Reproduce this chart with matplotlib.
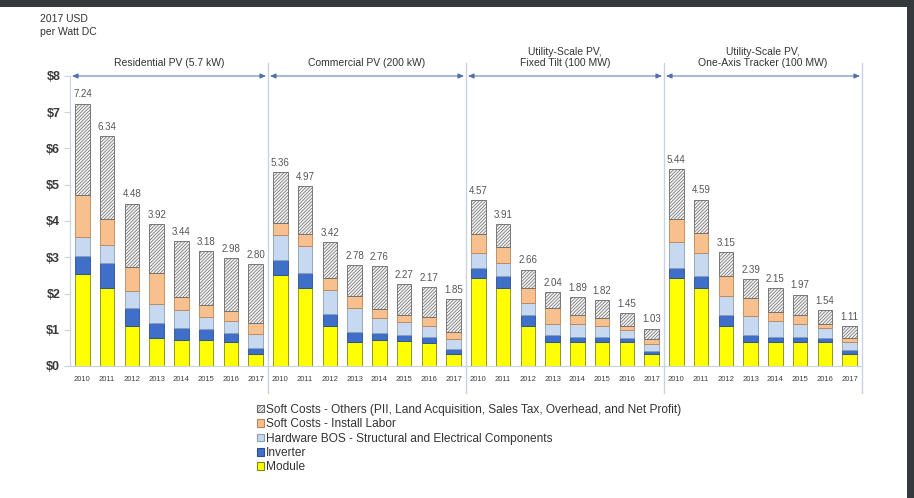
import matplotlib.pyplot as plt
from matplotlib.patches import Rectangle

plt.rcParams['font.family'] = ['Liberation Sans', 'DejaVu Sans']
plt.rcParams['hatch.linewidth'] = 0.5

years = ['2010', '2011', '2012', '2013', '2014', '2015', '2016', '2017']
segments = ['Residential PV (5.7 kW)', 'Commercial PV (200 kW)',
            'Utility-Scale PV,\nFixed Tilt (100 MW)',
            'Utility-Scale PV,\nOne-Axis Tracker (100 MW)']

# component costs per segment, 2010..2017 ($/W)
module = [
    [2.55, 2.15, 1.11, 0.76, 0.72, 0.72, 0.65, 0.33],
    [2.52, 2.15, 1.11, 0.65, 0.72, 0.68, 0.63, 0.33],
    [2.43, 2.15, 1.11, 0.66, 0.66, 0.65, 0.65, 0.32],
    [2.43, 2.15, 1.11, 0.66, 0.66, 0.65, 0.65, 0.33],
]
inverter = [
    [0.49, 0.70, 0.50, 0.43, 0.34, 0.30, 0.26, 0.18],
    [0.40, 0.42, 0.32, 0.30, 0.19, 0.18, 0.17, 0.13],
    [0.27, 0.33, 0.31, 0.20, 0.15, 0.15, 0.11, 0.10],
    [0.28, 0.33, 0.31, 0.20, 0.15, 0.15, 0.13, 0.10],
]
hardware_bos = [
    [0.52, 0.49, 0.45, 0.53, 0.48, 0.32, 0.32, 0.38],
    [0.69, 0.74, 0.68, 0.65, 0.41, 0.34, 0.29, 0.28],
    [0.41, 0.37, 0.32, 0.31, 0.36, 0.29, 0.22, 0.19],
    [0.70, 0.65, 0.52, 0.51, 0.42, 0.37, 0.26, 0.22],
]
install_labor = [
    [1.16, 0.72, 0.68, 0.84, 0.35, 0.35, 0.29, 0.30],
    [0.33, 0.33, 0.33, 0.33, 0.25, 0.22, 0.26, 0.21],
    [0.53, 0.42, 0.42, 0.43, 0.25, 0.23, 0.13, 0.13],
    [0.65, 0.54, 0.54, 0.51, 0.26, 0.25, 0.13, 0.12],
]
soft_others = [
    [2.52, 2.28, 1.74, 1.36, 1.55, 1.49, 1.46, 1.61],
    [1.42, 1.33, 0.98, 0.85, 1.19, 0.85, 0.82, 0.90],
    [0.93, 0.64, 0.50, 0.44, 0.47, 0.50, 0.34, 0.29],
    [1.38, 0.92, 0.67, 0.51, 0.66, 0.55, 0.37, 0.34],
]
totals = [
    [7.24, 6.34, 4.48, 3.92, 3.44, 3.18, 2.98, 2.80],
    [5.36, 4.97, 3.42, 2.78, 2.76, 2.27, 2.17, 1.85],
    [4.57, 3.91, 2.66, 2.04, 1.89, 1.82, 1.45, 1.03],
    [5.44, 4.59, 3.15, 2.39, 2.15, 1.97, 1.54, 1.11],
]
legend_labels = [
    'Soft Costs - Others (PII, Land Acquisition, Sales Tax, Overhead, and Net Profit)',
    'Soft Costs - Install Labor',
    'Hardware BOS - Structural and Electrical Components',
    'Inverter',
    'Module',
]

fig = plt.figure(figsize=(9.14, 4.98), dpi=100, facecolor='#36393c')
fig.patches.append(Rectangle((0, 0), 907 / 914, 491 / 498, transform=fig.transFigure,
                             facecolor='white', edgecolor='none', zorder=-1))
ax = fig.add_axes([70 / 914, 132 / 498, 792 / 914, 290 / 498])
ax.set_facecolor('white')

width = 0.58
styles = [
    dict(color='#ffff00', edgecolor='#7d8a1a', hatch=None),
    dict(color='#3f6fc8', edgecolor='#2b4f8f', hatch=None),
    dict(color='#c6d9f1', edgecolor='#8e9fb5', hatch=None),
    dict(color='#f9c08f', edgecolor='#b88558', hatch=None),
    dict(color='#f4f4f4', edgecolor='#666666', hatch='//////////'),
]

for g in range(4):
    x = [g * 8 + i for i in range(8)]
    bottom = [0.0] * 8
    for data, st in zip([module[g], inverter[g], hardware_bos[g], install_labor[g], soft_others[g]], styles):
        ax.bar(x, data, width, bottom=bottom, color=st['color'], edgecolor=st['edgecolor'],
               hatch=st['hatch'], linewidth=0.6)
        bottom = [b + d for b, d in zip(bottom, data)]
    for xi, t in zip(x, totals[g]):
        ax.annotate(f'{t:.2f}', (xi, t), xytext=(0, 3), textcoords='offset points',
                    ha='center', va='bottom', fontsize=7, color='#555555')
    # group header and arrow
    ax.annotate('', xy=(g * 8 - 0.42, 8), xytext=(g * 8 + 7.42, 8),
                arrowprops=dict(arrowstyle='<|-|>,head_length=0.35,head_width=0.15',
                                color='#4f72aa', lw=0.7, shrinkA=0, shrinkB=0))
    ax.text(g * 8 + 3.5, 1.026, segments[g], transform=ax.get_xaxis_transform(),
            ha='center', va='bottom', fontsize=7.5, color='#333333', linespacing=1.15)
    if g > 0:
        ax.plot([g * 8 - 0.5] * 2, [-0.75, 8.35], color='#c9d3e3', lw=1.0, clip_on=False, zorder=0)
ax.plot([31.5] * 2, [-0.75, 8.35], color='#c9d3e3', lw=1.0, clip_on=False, zorder=0)

ax.set_xlim(-0.5, 31.5)
ax.set_ylim(0, 8)
ax.set_xticks(range(32))
ax.set_xticklabels(years * 4, fontsize=5.5, color='#404040')
ax.tick_params(axis='x', length=0, pad=7)
ax.set_yticks(range(9))
ax.set_yticklabels([f'${v}' for v in range(9)], fontsize=9, fontweight='bold', color='#3a3a3a')
ax.tick_params(axis='y', length=4, color='#c9d3e3', pad=3)
for s in ['top', 'right']:
    ax.spines[s].set_visible(False)
ax.spines['left'].set_color('#c9d3e3')
ax.spines['bottom'].set_color('#c9d3e3')

fig.text(40 / 914, 484 / 498, '2017 USD\nper Watt DC', fontsize=7.5, color='#333333',
         ha='left', va='top', linespacing=1.35)

handles = [Rectangle((0, 0), 1, 1, facecolor=st['color'], edgecolor=st['edgecolor'],
                     hatch=st['hatch'], linewidth=0.8) for st in styles][::-1]
fig.legend(handles, legend_labels, loc='upper left', bbox_to_anchor=(252 / 914, 99 / 498),
           frameon=False, fontsize=8.6, handlelength=0.6, handleheight=0.6,
           handletextpad=0.2, labelspacing=0.2, borderaxespad=0, labelcolor='#333333')

fig.savefig('out.png', dpi=100, facecolor=fig.get_facecolor())
